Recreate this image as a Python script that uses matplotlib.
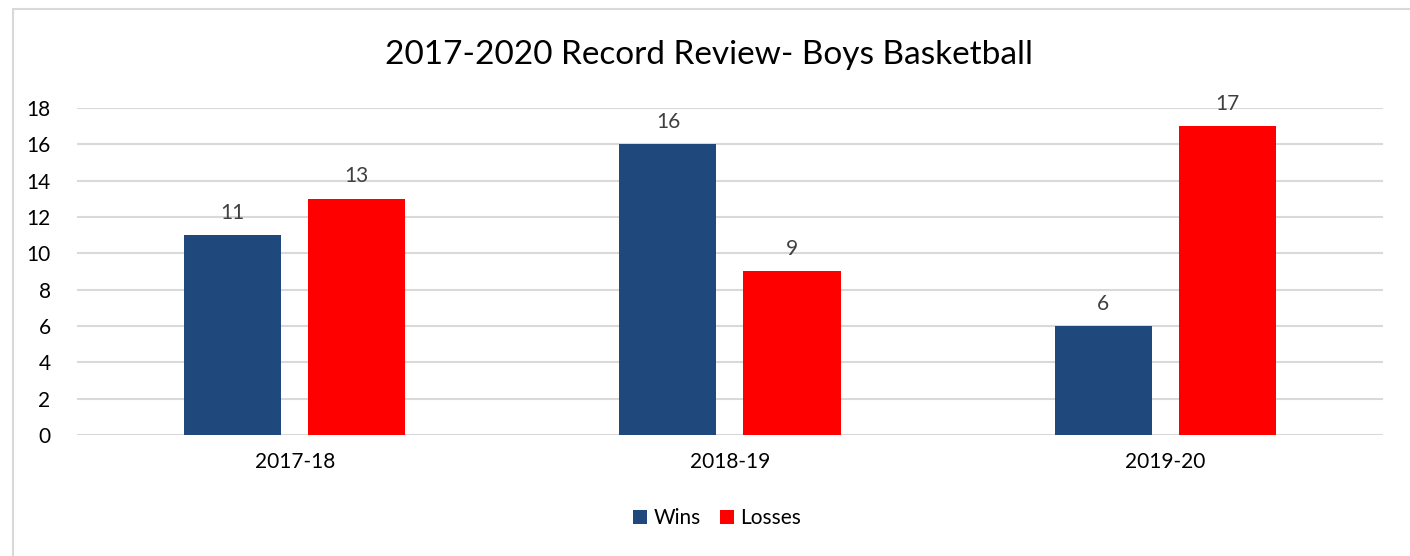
import matplotlib.pyplot as plt
import numpy as np
from matplotlib.patches import Rectangle

seasons = ["2017-18", "2018-19", "2019-20"]
wins = [11, 16, 6]
losses = [13, 9, 17]
yticks = [0, 2, 4, 6, 8, 10, 12, 14, 16, 18]

plt.rcParams['font.family'] = ['Lato', 'DejaVu Sans']

fig = plt.figure(figsize=(14.1, 5.56), dpi=100)
ax = fig.add_axes([0.0546, 0.2176, 0.9262, 0.5882])

x = np.arange(len(seasons))
width = 0.223
b1 = ax.bar(x - 0.1425, wins, width, color="#1F497D", label="Wins", zorder=3)
b2 = ax.bar(x + 0.1425, losses, width, color="#FF0000", label="Losses", zorder=3)

for bars in (b1, b2):
    ax.bar_label(bars, padding=9, fontsize=15, color="#404040")

ax.set_xlim(-0.5, 2.5)
ax.set_ylim(0, 18)
ax.set_yticks(yticks)
ax.set_xticks(x)
ax.set_xticklabels(seasons)
ax.tick_params(axis="y", length=0, pad=19, labelsize=15)
ax.tick_params(axis="x", length=0, pad=12, labelsize=15)
ax.grid(axis="y", color="#D9D9D9", linewidth=1.5, zorder=0)
for s in ax.spines.values():
    s.set_visible(False)

fig.text(0.503, 0.901, "2017-2020 Record Review- Boys Basketball",
         ha="center", va="center", fontsize=24)

fig.legend(handles=[b1, b2], loc="center", bbox_to_anchor=(0.5085, 0.068),
           ncol=2, frameon=False, fontsize=15, handlelength=0.7,
           handleheight=0.7, handletextpad=0.3, columnspacing=0.9)

fig.patches.append(Rectangle((13 / 1410, -0.1), 2, 1 - 9 / 556 + 0.1,
                             transform=fig.transFigure, fill=False,
                             edgecolor="#D9D9D9", linewidth=1.5))

fig.savefig("out.png", dpi=100)
plt.close(fig)
